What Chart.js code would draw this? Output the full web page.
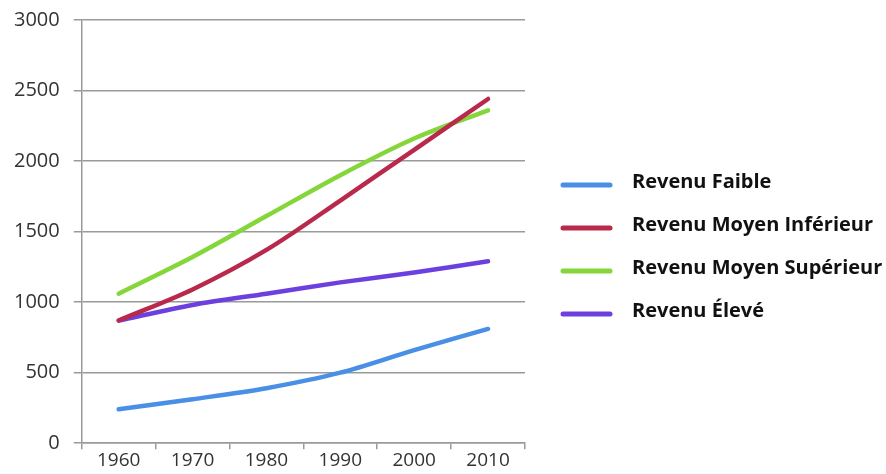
<!DOCTYPE html>
<html>
<head>
<meta charset="utf-8">
<script src="https://cdn.jsdelivr.net/npm/chart.js@4"></script>
<style>
  html, body { margin: 0; padding: 0; background: #fff; }
  #wrap { width: 886px; height: 474px; }
</style>
</head>
<body>
<div id="wrap"><canvas id="myChart" width="886" height="474"></canvas></div>
<script>
const years = ['1960', '1970', '1980', '1990', '2000', '2010'];
const revenuFaible = [240, 312, 390, 500, 660, 810];
const revenuMoyenInf = [870, 1090, 1370, 1720, 2080, 2440];
const revenuMoyenSup = [1060, 1320, 1610, 1900, 2160, 2360];
const revenuEleve = [870, 980, 1060, 1140, 1210, 1290];
const seriesNames = ['Revenu Faible', 'Revenu Moyen Inférieur', 'Revenu Moyen Supérieur', 'Revenu Élevé'];
const seriesColors = ['#4a8fe6', '#b9294b', '#85d63a', '#6c40de'];
const yMin = 0, yMax = 3000, yStep = 500;

// legend drawn at the right, lines + bold text
const sideLegend = {
  id: 'sideLegend',
  afterDraw(chart) {
    const ctx = chart.ctx;
    const area = chart.chartArea;
    ctx.save();
    ctx.font = 'bold 20px "Open Sans", sans-serif';
    ctx.textBaseline = 'middle';
    chart.data.datasets.forEach((ds, i) => {
      const y = area.top + 165 + i * 43;
      ctx.strokeStyle = ds.borderColor;
      ctx.lineWidth = 5;
      ctx.lineCap = 'round';
      ctx.beginPath();
      ctx.moveTo(area.right + 38, y);
      ctx.lineTo(area.right + 85, y);
      ctx.stroke();
      ctx.fillStyle = '#111';
      ctx.fillText(ds.label, area.right + 107, y - 3);
    });
    ctx.restore();
  }
};

const data = [revenuFaible, revenuMoyenInf, revenuMoyenSup, revenuEleve];

const myChart = new Chart(document.getElementById('myChart').getContext('2d'), {
  type: 'line',
  data: {
    labels: years,
    datasets: seriesNames.map((name, i) => ({
      label: name,
      data: data[i],
      borderColor: seriesColors[i],
      backgroundColor: seriesColors[i],
      borderWidth: 4.5,
      borderCapStyle: 'round',
      pointRadius: 0,
      tension: 0.3,
      fill: false
    }))
  },
  options: {
    responsive: false,
    animation: false,
    layout: { padding: { left: 0, right: 361, top: 0, bottom: 2 } },
    plugins: {
      legend: { display: false },
      tooltip: { enabled: false }
    },
    scales: {
      x: {
        offset: true,
        grid: { offset: true, drawOnChartArea: false, drawTicks: true, tickLength: 6, color: '#9a9a9a', lineWidth: 1.5 },
        border: { display: true, color: '#9a9a9a', width: 1.5 },
        ticks: { color: '#333', font: { family: 'Open Sans', size: 19 }, padding: 0 }
      },
      y: {
        min: yMin,
        max: yMax,
        ticks: { stepSize: yStep, color: '#333', font: { family: 'Open Sans', size: 20, lineHeight: 0.6 }, padding: 14,
          callback: v => String(v) },
        grid: { color: '#9a9a9a', lineWidth: 1.5, tickLength: 8 },
        border: { display: true, color: '#9a9a9a', width: 1.5 }
      }
    }
  },
  plugins: [sideLegend]
});
</script>
</body>
</html>
